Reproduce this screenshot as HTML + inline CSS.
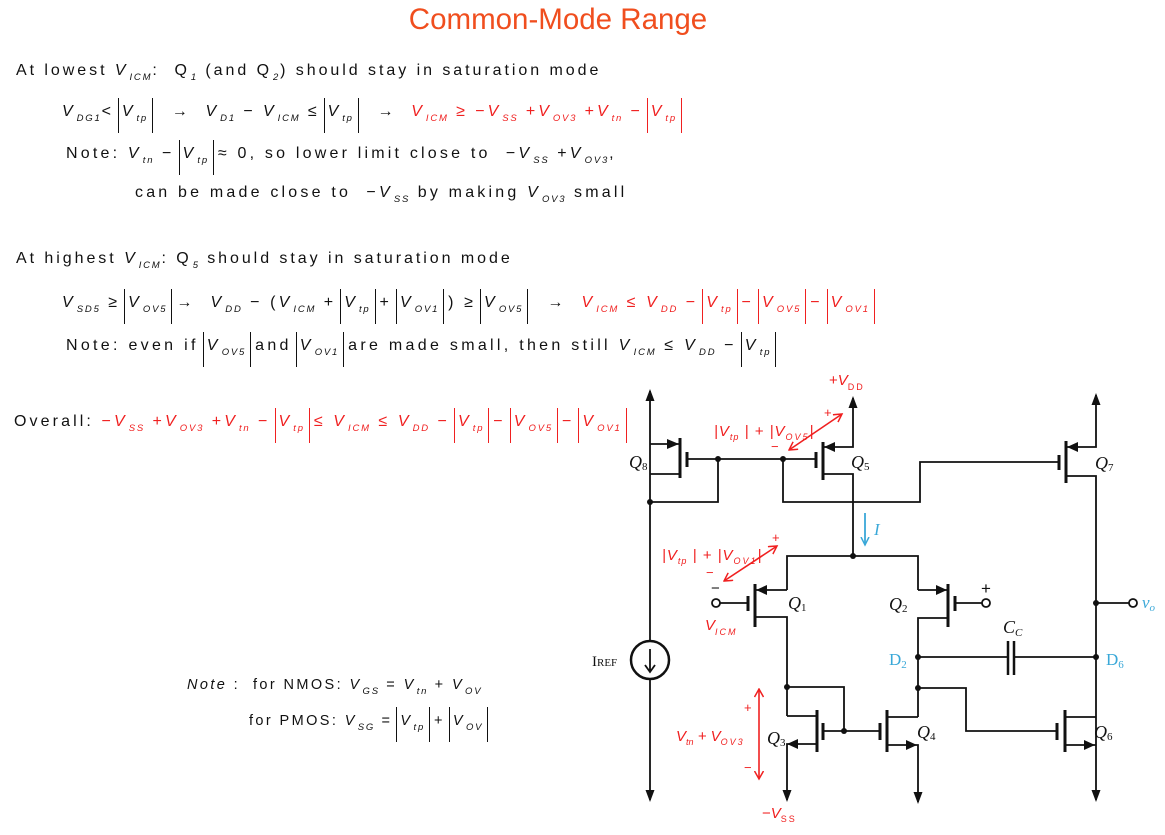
<!DOCTYPE html>
<html><head><meta charset="utf-8">
<style>
body{margin:0;background:#fff;}
#pg{position:relative;width:1165px;height:835px;overflow:hidden;font-family:"Liberation Sans",sans-serif;color:#111;}
.t{position:absolute;white-space:nowrap;font-size:16px;letter-spacing:2.95px;line-height:26px;}
.r{color:#f02020;}
i{font-style:italic;}
sub{font-size:9.5px;font-style:italic;vertical-align:-5px;letter-spacing:1.8px;margin-left:1px;}
.ab{display:inline-block;border-left:1.2px solid currentColor;border-right:1.2px solid currentColor;padding:0 4px 0 3px;line-height:28px;margin:0 4px;}
svg{position:absolute;left:0;top:0;}
</style></head><body>
<div id="pg">
<div style="position:absolute;left:0;width:1116px;top:3px;text-align:center;font-size:29.5px;color:#f04e1e;">Common-Mode Range</div>

<div class="t" style="left:16px;top:58px;">At lowest <i>V</i><sub>ICM</sub>:&nbsp; Q<sub>1</sub> (and Q<sub>2</sub>) should stay in saturation mode</div>
<div class="t" style="left:62px;top:98px;"><i>V</i><sub>DG1</sub>&lt;<span class="ab"><i>V</i><sub>tp</sub></span> &nbsp;→&nbsp; <i>V</i><sub>D1</sub> − <i>V</i><sub>ICM</sub> ≤<span class="ab"><i>V</i><sub>tp</sub></span> &nbsp;→&nbsp; <span class="r"><i>V</i><sub>ICM</sub> ≥ −<i>V</i><sub>SS</sub> +<i>V</i><sub>OV3</sub> +<i>V</i><sub>tn</sub> −<span class="ab"><i>V</i><sub>tp</sub></span></span></div>
<div class="t" style="left:66px;top:140px;letter-spacing:3.2px;">Note: <i>V</i><sub>tn</sub> −<span class="ab"><i>V</i><sub>tp</sub></span>≈ 0, so lower limit close to &nbsp;−<i>V</i><sub>SS</sub> +<i>V</i><sub>OV3</sub>,</div>
<div class="t" style="left:135px;top:180px;letter-spacing:3.2px;">can be made close to &nbsp;−<i>V</i><sub>SS</sub> by making <i>V</i><sub>OV3</sub> small</div>

<div class="t" style="left:16px;top:246px;">At highest <i>V</i><sub>ICM</sub>: Q<sub>5</sub> should stay in saturation mode</div>
<div class="t" style="left:62px;top:289px;letter-spacing:3.1px;"><i>V</i><sub>SD5</sub> ≥<span class="ab"><i>V</i><sub>OV5</sub></span>→ &nbsp;<i>V</i><sub>DD</sub> − (<i>V</i><sub>ICM</sub> +<span class="ab"><i>V</i><sub>tp</sub></span>+<span class="ab"><i>V</i><sub>OV1</sub></span>) ≥<span class="ab"><i>V</i><sub>OV5</sub></span> &nbsp;→&nbsp; <span class="r"><i>V</i><sub>ICM</sub> ≤ <i>V</i><sub>DD</sub> −<span class="ab"><i>V</i><sub>tp</sub></span>−<span class="ab"><i>V</i><sub>OV5</sub></span>−<span class="ab"><i>V</i><sub>OV1</sub></span></span></div>
<div class="t" style="left:66px;top:332px;letter-spacing:3.3px;">Note: even if<span class="ab"><i>V</i><sub>OV5</sub></span>and<span class="ab"><i>V</i><sub>OV1</sub></span>are made small, then still <i>V</i><sub>ICM</sub> ≤ <i>V</i><sub>DD</sub> −<span class="ab"><i>V</i><sub>tp</sub></span></div>

<div class="t" style="left:14px;top:408px;letter-spacing:3.1px;">Overall: <span class="r">−<i>V</i><sub>SS</sub> +<i>V</i><sub>OV3</sub> +<i>V</i><sub>tn</sub> −<span class="ab"><i>V</i><sub>tp</sub></span>≤ <i>V</i><sub>ICM</sub> ≤ <i>V</i><sub>DD</sub> −<span class="ab"><i>V</i><sub>tp</sub></span>−<span class="ab"><i>V</i><sub>OV5</sub></span>−<span class="ab"><i>V</i><sub>OV1</sub></span></span></div>

<div class="t" style="left:187px;top:672px;font-size:14.5px;letter-spacing:2.4px;"><i>Note</i> : &nbsp;for NMOS: <i>V</i><sub>GS</sub> = <i>V</i><sub>tn</sub> + <i>V</i><sub>OV</sub></div>
<div class="t" style="left:249px;top:707px;font-size:14.5px;letter-spacing:2.4px;">for PMOS: <i>V</i><sub>SG</sub> =<span class="ab"><i>V</i><sub>tp</sub></span>+<span class="ab"><i>V</i><sub>OV</sub></span></div>

<svg width="1165" height="835">
<defs>
<marker id="ah" markerUnits="userSpaceOnUse" markerWidth="12" markerHeight="12" refX="10" refY="6" orient="auto"><path d="M0,1.5 L12,6 L0,10.5 Z" fill="#111"/></marker>
<marker id="ra" markerUnits="userSpaceOnUse" markerWidth="10" markerHeight="10" refX="8" refY="5" orient="auto"><path d="M0,0.5 L8,5 L0,9.5" fill="none" stroke="#f02020" stroke-width="1.5"/></marker>
<marker id="rs" markerUnits="userSpaceOnUse" markerWidth="10" markerHeight="10" refX="1" refY="5" orient="auto"><path d="M9,0.5 L1,5 L9,9.5" fill="none" stroke="#f02020" stroke-width="1.5"/></marker>
<marker id="ba" markerUnits="userSpaceOnUse" markerWidth="10" markerHeight="10" refX="8" refY="5" orient="auto"><path d="M0,1 L8,5 L0,9" fill="none" stroke="#3aa8d8" stroke-width="1.5"/></marker>
</defs>
<g stroke="#111" stroke-width="1.8" fill="none">
<path d="M650,502 V391" marker-end="url(#ah)"/>
<path d="M650,444 H680"/><path d="M680,438 V478" stroke-width="3"/><path d="M687,452 V467" stroke-width="3"/>
<path d="M680,474 H650"/>
<path d="M650,502 H718 V459"/><path d="M687,459 H816"/>
<path d="M816,452 V468" stroke-width="3"/><path d="M823,442 V480" stroke-width="3"/>
<path d="M823,447 H853 V398" marker-end="url(#ah)"/>
<path d="M823,474 H853 V556"/>
<path d="M783,459 V502 H920 V462 H1059"/>
<path d="M1059,455 V470" stroke-width="3"/><path d="M1066,441 V483" stroke-width="3"/>
<path d="M1066,447 H1096 V395" marker-end="url(#ah)"/>
<path d="M1066,476 H1096 V800" marker-end="url(#ah)"/>
<path d="M1096,603 H1129"/><circle cx="1133" cy="603" r="4" fill="#fff"/>
<path d="M787,590 V556 H918 V590"/>
<path d="M787,590 H755"/><path d="M755,584 V627" stroke-width="3"/><path d="M748,596 V611" stroke-width="3"/>
<path d="M748,603 H720"/><circle cx="716" cy="603" r="4" fill="#fff"/>
<path d="M755,617 H787 V716"/>
<path d="M918,590 H948"/><path d="M948,584 V627" stroke-width="3"/><path d="M955,596 V611" stroke-width="3"/>
<path d="M955,603 H982"/><circle cx="986" cy="603" r="4" fill="#fff"/>
<path d="M948,618 H918 V717"/>
<path d="M918,657 H1008"/><path d="M1008,641 V675 M1014,641 V675" stroke-width="2.5"/><path d="M1014,657 H1096"/>
<path d="M787,716 H817"/><path d="M817,710 V752" stroke-width="3"/><path d="M823,723 V740" stroke-width="3"/>
<path d="M817,744 H787 V800" marker-end="url(#ah)"/>
<path d="M823,731 H880"/><path d="M844,731 V687 H787"/>
<path d="M880,723 V740" stroke-width="3"/><path d="M887,710 V752" stroke-width="3"/>
<path d="M887,717 H918"/><path d="M887,745 H918 V802" marker-end="url(#ah)"/>
<path d="M918,688 H966 V731 H1057"/>
<path d="M1057,723 V740" stroke-width="3"/><path d="M1065,710 V752" stroke-width="3"/>
<path d="M1065,717 H1096"/><path d="M1065,745 H1096"/>
<path d="M650,502 V641"/><circle cx="650" cy="660" r="19" stroke-width="2.5"/>
<path d="M650,649 V671 M645,665 L650,672 L655,665"/>
<path d="M650,679 V800" marker-end="url(#ah)"/>
</g>
<g fill="#111">
<path d="M667,439 L679,444 L667,449Z"/><path d="M835,442 L824,447 L835,452Z"/><path d="M1078,442 L1067,447 L1078,452Z"/>
<path d="M767,585 L756,590 L767,595Z"/><path d="M936,585 L947,590 L936,595Z"/>
<path d="M798,739 L787,744 L798,749Z"/><path d="M906,740 L917,745 L906,750Z"/><path d="M1084,740 L1095,745 L1084,750Z"/>
<circle cx="718" cy="459" r="3"/><circle cx="783" cy="459" r="3"/><circle cx="650" cy="502" r="3"/><circle cx="853" cy="556" r="3"/>
<circle cx="787" cy="687" r="3"/><circle cx="918" cy="688" r="3"/><circle cx="918" cy="657" r="3"/><circle cx="1096" cy="657" r="3"/><circle cx="1096" cy="603" r="3"/><circle cx="844" cy="731" r="3"/>
</g>
<g font-family="Liberation Serif" font-style="italic" font-size="18" fill="#111">
<text x="629" y="468">Q<tspan font-size="11" dy="2" font-style="normal">8</tspan></text>
<text x="851" y="468">Q<tspan font-size="11" dy="2" font-style="normal">5</tspan></text>
<text x="1095" y="469">Q<tspan font-size="11" dy="2" font-style="normal">7</tspan></text>
<text x="788" y="609">Q<tspan font-size="11" dy="2" font-style="normal">1</tspan></text>
<text x="889" y="610">Q<tspan font-size="11" dy="2" font-style="normal">2</tspan></text>
<text x="767" y="744">Q<tspan font-size="11" dy="2" font-style="normal">3</tspan></text>
<text x="917" y="738">Q<tspan font-size="11" dy="2" font-style="normal">4</tspan></text>
<text x="1094" y="738">Q<tspan font-size="11" dy="2" font-style="normal">6</tspan></text>
<text x="592" y="666" font-style="normal" font-size="15">I<tspan font-size="11">REF</tspan></text>
<text x="1003" y="633">C<tspan font-size="11" dy="3">C</tspan></text>
<text x="981" y="594" font-style="normal" font-family="Liberation Sans" font-size="17">+</text>
</g>
<g font-family="Liberation Serif" font-size="17" fill="#3aa8d8">
<text x="889" y="665">D<tspan font-size="11" dy="3">2</tspan></text>
<text x="1106" y="665">D<tspan font-size="11" dy="3">6</tspan></text>
<text x="1142" y="608" font-style="italic">v<tspan font-size="11" dy="3">o</tspan></text>
<text x="874" y="535" font-style="italic">I</text>
<path d="M865,513 V545" stroke="#3aa8d8" stroke-width="1.8" fill="none" marker-end="url(#ba)"/>
</g>
<g stroke="#f02020" stroke-width="1.6" fill="none">
<path d="M789,450 L842,414" marker-end="url(#ra)" marker-start="url(#rs)"/>
<path d="M724,581 L777,546" marker-end="url(#ra)" marker-start="url(#rs)"/>
<path d="M759,689 V779" marker-end="url(#ra)" marker-start="url(#rs)"/>
</g>
<g font-family="Liberation Sans" font-style="italic" font-size="15" fill="#f02020">
<text x="829" y="385" font-style="normal">+<tspan font-style="italic">V</tspan><tspan font-size="9" dy="5" letter-spacing="2">DD</tspan></text>
<text x="714" y="436" letter-spacing="1">|V<tspan font-size="9" dy="4">tp</tspan><tspan dy="-4"> | + |V</tspan><tspan font-size="9" dy="4" letter-spacing="2">OV5</tspan><tspan dy="-4">|</tspan></text>
<text x="662" y="560" letter-spacing="1">|V<tspan font-size="9" dy="4">tp</tspan><tspan dy="-4"> | + |V</tspan><tspan font-size="9" dy="4" letter-spacing="2">OV1</tspan><tspan dy="-4">|</tspan></text>
<text x="705" y="630">V<tspan font-size="9" dy="5" letter-spacing="2">ICM</tspan></text>
<text x="676" y="741">V<tspan font-size="9" dy="4">tn</tspan><tspan dy="-4"> + V</tspan><tspan font-size="9" dy="4" letter-spacing="2">OV3</tspan></text>
<text x="762" y="818" font-style="normal">−<tspan font-style="italic">V</tspan><tspan font-size="9" dy="4" letter-spacing="2">SS</tspan></text>
<text x="824" y="417" font-style="normal" font-size="13">+</text><text x="771" y="451" font-style="normal" font-size="13">−</text>
<text x="772" y="542" font-style="normal" font-size="13">+</text><text x="706" y="577" font-style="normal" font-size="13">−</text>
<text x="744" y="712" font-style="normal" font-size="13">+</text><text x="744" y="772" font-style="normal" font-size="13">−</text>
</g>
<text x="711" y="593" font-family="Liberation Sans" font-size="15" fill="#111">−</text>
</svg>
</div>
</body></html>
